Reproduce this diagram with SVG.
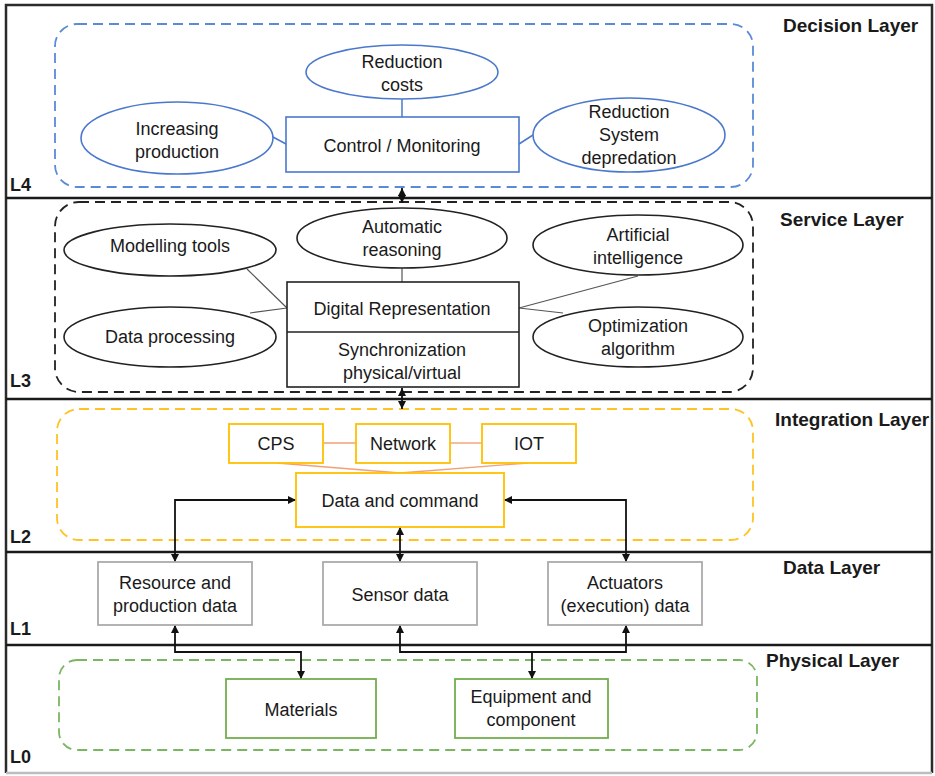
<svg xmlns="http://www.w3.org/2000/svg" width="935" height="776" viewBox="0 0 935 776">
<style>
  text { font-family: "Liberation Sans", Arial, sans-serif; fill: #1a1a1a; }
  .t { font-size: 18px; text-anchor: middle; }
  .lay { font-size: 19px; font-weight: bold; }
  .lv { font-size: 18px; font-weight: bold; }
  .frame { fill: none; stroke: #2b2b2b; stroke-width: 2.5; }
  .div { stroke: #1a1a1a; stroke-width: 2.5; }
  .blueBox { fill: none; stroke: #5B8AD6; stroke-width: 1.8; stroke-dasharray: 10 6; }
  .blackBox { fill: none; stroke: #222; stroke-width: 1.8; stroke-dasharray: 10 6; }
  .yelBox { fill: none; stroke: #FFC324; stroke-width: 1.8; stroke-dasharray: 10 6; }
  .grnBox { fill: none; stroke: #7BB662; stroke-width: 1.8; stroke-dasharray: 10 6; }
  .blue { fill: #fff; stroke: #4A78CC; stroke-width: 1.6; }
  .blk { fill: #fff; stroke: #222; stroke-width: 1.6; }
  .yel { fill: #fff; stroke: #FFC000; stroke-width: 1.8; }
  .gry { fill: #fff; stroke: #ABABAB; stroke-width: 1.8; }
  .grn { fill: #fff; stroke: #72AE4E; stroke-width: 1.8; }
  .lblue { stroke: #4A78CC; stroke-width: 1.5; fill: none; }
  .lgrey { stroke: #555; stroke-width: 1.2; fill: none; }
  .lor { stroke: #F2A074; stroke-width: 1.4; fill: none; }
  .arr { stroke: #111; stroke-width: 1.8; fill: none; marker-start: url(#ah); marker-end: url(#ah); }
  .arr1 { stroke: #111; stroke-width: 1.8; fill: none; marker-end: url(#ah); }
</style>
<defs>
  <marker id="ah" viewBox="0 0 10 10" refX="10" refY="5" markerWidth="9" markerHeight="8" markerUnits="userSpaceOnUse" orient="auto-start-reverse">
    <path d="M0,0 L10,5 L0,10 z" fill="#111"/>
  </marker>
</defs>
<rect width="935" height="776" fill="#fff"/>

<!-- frame and layer dividers -->
<g id="frame">
  <path class="frame" d="M6,773 V5 H932 V773"/>
  <line x1="6" y1="773" x2="932" y2="773" stroke="#bdbdbd" stroke-width="2.5"/>
  <line class="div" x1="6" y1="198" x2="932" y2="198"/>
  <line class="div" x1="6" y1="399" x2="932" y2="399"/>
  <line class="div" x1="6" y1="552" x2="932" y2="552"/>
  <line class="div" x1="6" y1="645" x2="932" y2="645"/>
</g>

<!-- layer containers -->
<g id="layer-boxes">
  <rect class="blueBox" x="55" y="24" width="698" height="163" rx="22"/>
  <rect class="blackBox" x="55" y="202" width="698" height="190" rx="24"/>
  <rect class="yelBox" x="57" y="409" width="696" height="131" rx="22"/>
  <rect class="grnBox" x="59" y="660" width="698" height="90" rx="18"/>
</g>

<!-- layer labels -->
<g id="labels">
  <text class="lay" x="783" y="32">Decision Layer</text>
  <text class="lay" x="780" y="226">Service Layer</text>
  <text class="lay" x="775" y="426">Integration Layer</text>
  <text class="lay" x="783" y="574">Data Layer</text>
  <text class="lay" x="766" y="667">Physical Layer</text>
  <text class="lv" x="10" y="191">L4</text>
  <text class="lv" x="10" y="387">L3</text>
  <text class="lv" x="10" y="543">L2</text>
  <text class="lv" x="10" y="635">L1</text>
  <text class="lv" x="10" y="763">L0</text>
</g>

<!-- connectors -->
<g id="connectors">
  <line class="lblue" x1="402" y1="99" x2="402" y2="117"/>
  <line class="lblue" x1="273" y1="137" x2="286" y2="144"/>
  <line class="lblue" x1="519" y1="144" x2="533" y2="135"/>
  <line class="lgrey" x1="402" y1="268" x2="402" y2="282"/>
  <line class="lgrey" x1="247" y1="269" x2="287" y2="308"/>
  <line class="lgrey" x1="250" y1="313" x2="287" y2="308"/>
  <line class="lgrey" x1="519" y1="308" x2="638" y2="276"/>
  <line class="lgrey" x1="519" y1="308" x2="563" y2="313"/>
  <line class="lor" x1="323" y1="443" x2="356" y2="443"/>
  <line class="lor" x1="450" y1="443" x2="482" y2="443"/>
  <line class="lor" x1="277" y1="463" x2="400" y2="473"/>
  <line class="lor" x1="528" y1="463" x2="400" y2="473"/>
  <path class="arr" d="M402,188 V203"/>
  <path class="arr" d="M402,388 V409"/>
  <path class="arr" d="M175,562 V500 H296"/>
  <path class="arr" d="M400,527 V562"/>
  <path class="arr" d="M504,500 H626 V562"/>
  <path class="arr" d="M175,625 V652 H301 V679"/>
  <path class="arr" d="M400,625 V652 H626 V625"/>
  <path class="arr1" d="M532,652 V679"/>
</g>

<!-- Decision layer -->
<g id="reduction-costs">
  <ellipse class="blue" cx="402" cy="72" rx="96" ry="27"/>
  <text class="t" x="402" y="68">Reduction</text>
  <text class="t" x="402" y="91">costs</text>
</g>
<g id="control-monitoring">
  <rect class="blue" x="286" y="117" width="233" height="55"/>
  <text class="t" x="402" y="152">Control / Monitoring</text>
</g>
<g id="increasing-production">
  <ellipse class="blue" cx="177" cy="138" rx="96" ry="36"/>
  <text class="t" x="177" y="135">Increasing</text>
  <text class="t" x="177" y="158">production</text>
</g>
<g id="reduction-system">
  <ellipse class="blue" cx="629" cy="135" rx="96" ry="37"/>
  <text class="t" x="629" y="118">Reduction</text>
  <text class="t" x="629" y="141">System</text>
  <text class="t" x="629" y="164">depredation</text>
</g>

<!-- Service layer -->
<g id="modelling-tools">
  <ellipse class="blk" cx="170" cy="250" rx="106" ry="26"/>
  <text class="t" x="170" y="252">Modelling tools</text>
</g>
<g id="automatic-reasoning">
  <ellipse class="blk" cx="402" cy="238" rx="105" ry="30"/>
  <text class="t" x="402" y="233">Automatic</text>
  <text class="t" x="402" y="256">reasoning</text>
</g>
<g id="artificial-intelligence">
  <ellipse class="blk" cx="638" cy="245" rx="105" ry="30"/>
  <text class="t" x="638" y="241">Artificial</text>
  <text class="t" x="638" y="264">intelligence</text>
</g>
<g id="data-processing">
  <ellipse class="blk" cx="170" cy="337" rx="106" ry="30"/>
  <text class="t" x="170" y="343">Data processing</text>
</g>
<g id="optimization-algorithm">
  <ellipse class="blk" cx="638" cy="337" rx="105" ry="30"/>
  <text class="t" x="638" y="332">Optimization</text>
  <text class="t" x="638" y="355">algorithm</text>
</g>
<g id="digital-representation">
  <rect class="blk" x="287" y="282" width="232" height="105"/>
  <line x1="287" y1="332" x2="519" y2="332" stroke="#222" stroke-width="1.6"/>
  <text class="t" x="402" y="315">Digital Representation</text>
  <text class="t" x="402" y="356">Synchronization</text>
  <text class="t" x="402" y="379">physical/virtual</text>
</g>

<!-- Integration layer -->
<g id="cps">
  <rect class="yel" x="229" y="424" width="94" height="39"/>
  <text class="t" x="276" y="450">CPS</text>
</g>
<g id="network">
  <rect class="yel" x="356" y="424" width="94" height="39"/>
  <text class="t" x="403" y="450">Network</text>
</g>
<g id="iot">
  <rect class="yel" x="482" y="424" width="94" height="39"/>
  <text class="t" x="529" y="450">IOT</text>
</g>
<g id="data-and-command">
  <rect class="yel" x="296" y="473" width="208" height="54"/>
  <text class="t" x="400" y="507">Data and command</text>
</g>

<!-- Data layer -->
<g id="resource-production-data">
  <rect class="gry" x="98" y="562" width="154" height="63"/>
  <text class="t" x="175" y="589">Resource and</text>
  <text class="t" x="175" y="612">production data</text>
</g>
<g id="sensor-data">
  <rect class="gry" x="323" y="562" width="154" height="63"/>
  <text class="t" x="400" y="601">Sensor data</text>
</g>
<g id="actuators-data">
  <rect class="gry" x="548" y="562" width="154" height="63"/>
  <text class="t" x="625" y="589">Actuators</text>
  <text class="t" x="625" y="612">(execution) data</text>
</g>

<!-- Physical layer -->
<g id="materials">
  <rect class="grn" x="226" y="679" width="150" height="59"/>
  <text class="t" x="301" y="716">Materials</text>
</g>
<g id="equipment-component">
  <rect class="grn" x="455" y="679" width="153" height="59"/>
  <text class="t" x="531" y="703">Equipment and</text>
  <text class="t" x="531" y="726">component</text>
</g>
</svg>
